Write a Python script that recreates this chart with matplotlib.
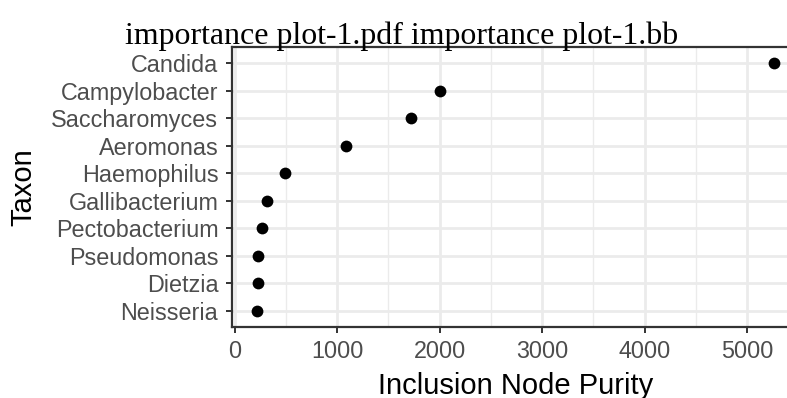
import matplotlib
matplotlib.use("Agg")
import matplotlib.pyplot as plt
from matplotlib.ticker import MultipleLocator

# Datos (orden de abajo hacia arriba)
taxa = ["Neisseria", "Dietzia", "Pseudomonas", "Pectobacterium", "Gallibacterium",
        "Haemophilus", "Aeromonas", "Saccharomyces", "Campylobacter", "Candida"]
purity = [220, 225, 228, 270, 315, 490, 1090, 1720, 2000, 5260]
xticks = [0, 1000, 2000, 3000, 4000, 5000]
title = "importance plot-1.pdf importance plot-1.bb"

W, H, DPI = 787, 398, 100
GRID_C = "#EBEBEB"
DARK = "#333333"
TICK_TXT = "#4D4D4D"
SANS = ["Liberation Sans", "DejaVu Sans"]

fig = plt.figure(figsize=(W / DPI, H / DPI), dpi=DPI)
# el panel sale por la derecha (la figura original está recortada)
left, right, top, bottom = 231.5, 799, 47, 327
ax = fig.add_axes([left / W, 1 - bottom / H, (right - left) / W, (bottom - top) / H])

ypos = list(range(len(taxa)))
ax.scatter(purity, ypos, s=72, color="black", zorder=3, linewidths=0)

ax.set_xlim(-32, 5508)
ax.set_ylim(-0.6, len(taxa) - 0.4)
ax.set_xticks(xticks)
ax.xaxis.set_minor_locator(MultipleLocator(500))
ax.set_yticks(ypos)
ax.set_yticklabels(taxa)

ax.grid(True, which="major", color=GRID_C, lw=2.0, zorder=0)
ax.grid(True, which="minor", axis="x", color=GRID_C, lw=1.0, zorder=0)
ax.set_axisbelow(True)
for sp in ax.spines.values():
    sp.set_color(DARK)
    sp.set_linewidth(1.6)

ax.tick_params(which="major", length=4.5, width=1.4, color=DARK,
               labelcolor=TICK_TXT, labelsize=16.8, pad=5)
ax.tick_params(which="minor", length=0)
for lab in ax.get_xticklabels() + ax.get_yticklabels():
    lab.set_family(SANS)

ax.set_xlabel("Inclusion Node Purity", fontsize=21, family=SANS, labelpad=6)
ax.set_ylabel("Taxon", fontsize=21, family=SANS, labelpad=10)

# título con serifa; se ajusta el tamaño para que ocupe ~555 px como el original
t = fig.text(125 / W, 1 - 44 / H, title, fontsize=24, family=["Liberation Serif"],
             ha="left", va="baseline")
r = fig.canvas.get_renderer()
w = t.get_window_extent(renderer=r).width
t.set_fontsize(24 * 555 / w)

fig.savefig("out.png", dpi=DPI)
